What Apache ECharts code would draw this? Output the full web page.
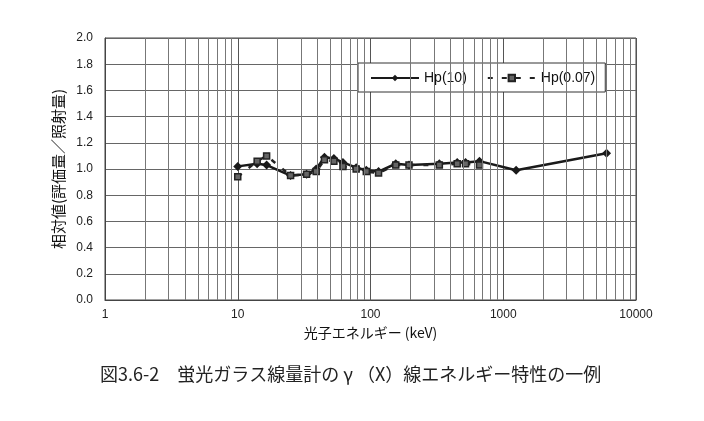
<!DOCTYPE html>
<html><head><meta charset="utf-8">
<script src="https://cdn.jsdelivr.net/npm/echarts@6/dist/echarts.min.js"></script>
<style>html,body{margin:0;padding:0;background:#fff}#c{width:704px;height:421px}</style>
</head><body><div id="c"></div>
<script>
const energiesHp10 = [10, 14, 16.5, 25, 33, 39, 45, 53, 62, 78, 93, 115, 155, 195, 330, 450, 520, 662, 1250, 6000];
const valuesHp10   = [1.02, 1.04, 1.03, 0.95, 0.96, 1.00, 1.09, 1.08, 1.05, 1.01, 0.99, 0.98, 1.04, 1.03, 1.04, 1.05, 1.05, 1.06, 0.99, 1.12];
const energiesHp007 = [10, 14, 16.5, 25, 33, 39, 45, 53, 62, 78, 93, 115, 155, 195, 330, 450, 520, 662];
const valuesHp007   = [0.94, 1.06, 1.10, 0.95, 0.96, 0.98, 1.07, 1.06, 1.02, 1.00, 0.98, 0.97, 1.03, 1.03, 1.03, 1.04, 1.04, 1.03];
const xTicks = [1, 10, 100, 1000, 10000];
const minorGrid = [];
for (const d of [1, 10, 100, 1000]) for (let k = 2; k <= 9; k++) minorGrid.push(d * k);
const seriesNames = ['Hp(10)', 'Hp(0.07)'];
const xName = '光子エネルギー (keV)';
const yName = '相対値(評価量／照射量)';
const caption = '図3.6-2　蛍光ガラス線量計の γ （X）線エネルギー特性の一例';

const chart = echarts.init(document.getElementById('c'));
const pair = (xs, ys) => xs.map((x, i) => [x, ys[i]]);
chart.setOption({
  animation: false,
  textStyle: { fontFamily: 'Liberation Sans, Arial, sans-serif' },
  grid: { left: 105, top: 38, width: 531, height: 262, show: true, borderColor: '#444', borderWidth: 1 },
  legend: {
    left: 358, top: 63, itemWidth: 48, itemHeight: 8, itemGap: 20,
    backgroundColor: '#fff', borderColor: '#333', borderWidth: 1, padding: [8, 10, 7, 12],
    textStyle: { fontSize: 14, color: '#111' },
    data: seriesNames
  },
  xAxis: {
    type: 'log', logBase: 10, min: 1, max: 10000,
    name: xName, nameLocation: 'middle', nameGap: 25,
    nameTextStyle: { fontSize: 14, color: '#111', fontFamily: 'Noto Sans CJK JP' },
    axisLine: { lineStyle: { color: '#444' } },
    axisTick: { show: false },
    axisLabel: { color: '#222', fontSize: 12, margin: 9, formatter: v => xTicks.includes(v) ? String(v) : '' },
    splitLine: { show: true, lineStyle: { color: '#555', width: 1 } }
  },
  yAxis: {
    type: 'value', min: 0, max: 2, interval: 0.2,
    name: yName, nameLocation: 'middle', nameGap: 37, nameRotate: 90,
    nameTextStyle: { fontSize: 15, color: '#111', fontFamily: 'Noto Sans CJK JP' },
    axisLine: { show: true, lineStyle: { color: '#444' } },
    axisTick: { show: false },
    axisLabel: { color: '#222', fontSize: 12, margin: 12, formatter: v => v.toFixed(1) },
    splitLine: { show: true, lineStyle: { color: '#666', width: 1 } }
  },
  series: [
    {
      name: seriesNames[0], type: 'line', data: pair(energiesHp10, valuesHp10),
      symbol: 'diamond', symbolSize: 9, z: 3,
      lineStyle: { color: '#1a1a1a', width: 2.5 },
      itemStyle: { color: '#1a1a1a' },
      markLine: {
        silent: true, symbol: 'none', label: { show: false }, animation: false,
        lineStyle: { color: '#777', width: 1, type: 'solid' },
        data: minorGrid.map(v => ({ xAxis: v }))
      }
    },
    {
      name: seriesNames[1], type: 'line', data: pair(energiesHp007, valuesHp007),
      symbol: 'rect', symbolSize: 6, z: 4,
      lineStyle: { color: '#222', width: 2.5, type: [5, 9] },
      itemStyle: { color: '#666', borderColor: '#222', borderWidth: 1.5 }
    }
  ],
  graphic: [{
    type: 'text', left: 100, top: 365,
    style: { text: caption, fontSize: 18, fill: '#222', fontFamily: 'Noto Sans CJK JP' }
  }]
});
</script></body></html>
